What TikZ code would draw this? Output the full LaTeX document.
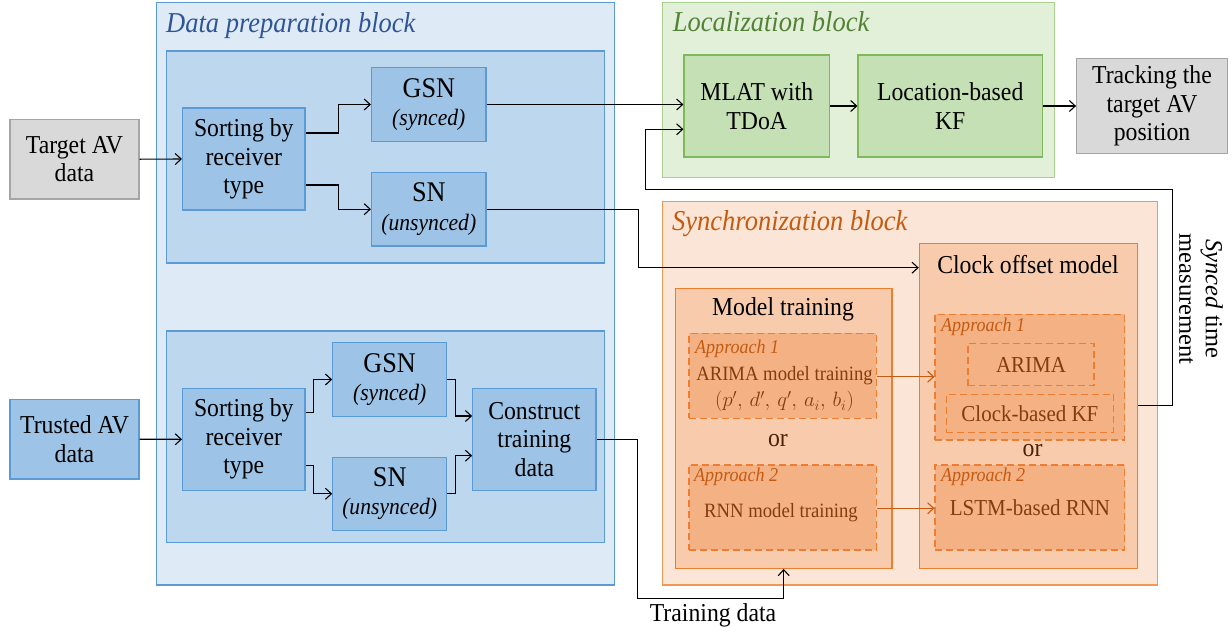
\documentclass[tikz,border=0pt]{standalone}
\usepackage{fontspec}
\setmainfont[FakeStretch=0.92]{Liberation Serif}
\newfontfamily\plainserif{Liberation Serif}
\usetikzlibrary{arrows.meta,calc}
\definecolor{bOuter}{HTML}{DEEAF6}
\definecolor{bPanel}{HTML}{BDD7EE}
\definecolor{bBox}{HTML}{9DC3E6}
\definecolor{bLine}{HTML}{5B9BD5}
\definecolor{bTitle}{HTML}{2F5597}
\definecolor{gOuter}{HTML}{E2F0D9}
\definecolor{gBox}{HTML}{C5E0B4}
\definecolor{gLineO}{HTML}{A9D18E}
\definecolor{gLine}{HTML}{7FBA5A}
\definecolor{gTitle}{HTML}{548235}
\definecolor{oOuter}{HTML}{FBE5D6}
\definecolor{oPanel}{HTML}{F8CBAD}
\definecolor{oDash}{HTML}{F4B183}
\definecolor{oLine}{HTML}{ED7D31}
\definecolor{oTitle}{HTML}{C55A11}
\definecolor{oText}{HTML}{843C0C}
\definecolor{oOr}{HTML}{4A2208}
\definecolor{grayF}{HTML}{D9D9D9}
\definecolor{grayL}{HTML}{A5A5A5}
\begin{document}
\begin{tikzpicture}[x=1pt,y=-1pt,
  base/.style={rectangle, inner sep=0pt, align=center, font=\fontsize{25.8}{28.5}\selectfont, line width=1.2pt},
  blueouter/.style={base, draw=bLine, fill=bOuter},
  bluepanel/.style={base, draw=bLine, fill=bPanel},
  bluebox/.style={base, draw=bLine, fill=bBox},
  graybox/.style={base, draw=grayL, fill=grayF},
  greenouter/.style={base, draw=gLineO, fill=gOuter},
  greenbox/.style={base, draw=gLine, fill=gBox},
  orangeouter/.style={base, draw=oLine!80, fill=oOuter},
  orangepanel/.style={base, draw=oLine, fill=oPanel},
  dashbox/.style={base, draw=oLine, fill=oDash, dash pattern=on 7pt off 4pt, text=oText},
  dashin/.style={base, draw=oLine, dash pattern=on 7pt off 4pt, text=oText, font=\fontsize{22.8}{26}\selectfont},
  title/.style={anchor=base west, inner sep=0pt, font=\fontsize{28.8}{32}\selectfont\itshape},
  apprlabel/.style={anchor=base west, inner sep=0pt, text=oTitle, font=\fontsize{19.6}{23}\selectfont\itshape},
  lbl/.style={inner sep=0pt, align=center, font=\fontsize{25.8}{28.5}\selectfont},
  arr/.style={-{Straight Barb[length=6pt,width=11pt]}, line width=1.1pt, draw=black},
  oarr/.style={-{Straight Barb[length=6pt,width=11pt]}, line width=1.1pt, draw=oTitle}
]
\useasboundingbox (0,0) rectangle (1232,633);

% ---------- containers ----------
\node[blueouter, minimum width=458.1pt, minimum height=582.3pt] (dp) at (385.6,293.9) {};
\node[bluepanel, minimum width=437.9pt, minimum height=212pt] (dpt) at (385.4,157) {};
\node[bluepanel, minimum width=437.9pt, minimum height=211.7pt] (dpb) at (385.4,436.9) {};
\node[greenouter, minimum width=392.2pt, minimum height=174.6pt] (loc) at (858.3,90) {};
\node[orangeouter, minimum width=495.3pt, minimum height=383.3pt] (sync) at (909.9,393.4) {};
\node[orangepanel, minimum width=217.8pt, minimum height=325pt] (clock) at (1028.3,405.8) {};
\node[orangepanel, minimum width=216.6pt, minimum height=280pt] (mt) at (783.7,428.3) {};

% ---------- titles ----------
\node[title, text=bTitle] (tdp) at (166,32.5) {Data preparation block};
\node[title, text=gTitle] (tloc) at (672.6,31.7) {Localization block};
\node[title, text=oTitle] (tsync) at (672,230) {Synchronization block};
\node[lbl, anchor=base] (tclock) at (1028,273) {Clock offset model};
\node[lbl, anchor=base] (tmt) at (783,315) {Model training};

% ---------- data preparation ----------
\node[graybox, minimum width=129pt, minimum height=79.7pt] (tav) at (74.5,159.2) {Target AV\\data};
\node[bluebox, minimum width=122.4pt, minimum height=102pt] (sort1) at (243.8,159) {Sorting by\\receiver\\type};
\node[bluebox, minimum width=114.5pt, minimum height=73.6pt] (gsn1) at (428.8,104.5) {\fontsize{28.5}{27}\selectfont GSN\\{\fontsize{23.5}{25}\selectfont\itshape (synced)}};
\node[bluebox, minimum width=114.5pt, minimum height=73.7pt] (sn1) at (428.8,209.2) {\fontsize{28.5}{27}\selectfont SN\\{\fontsize{23.5}{25}\selectfont\itshape (unsynced)}};

\node[bluebox, minimum width=129pt, minimum height=79.7pt] (trav) at (74.5,439.2) {Trusted AV\\data};
\node[bluebox, minimum width=122.4pt, minimum height=102pt] (sort2) at (243.8,439.3) {Sorting by\\receiver\\type};
\node[bluebox, minimum width=113.8pt, minimum height=73.6pt] (gsn2) at (389.7,379.5) {\fontsize{28.5}{27}\selectfont GSN\\{\fontsize{23.5}{25}\selectfont\itshape (synced)}};
\node[bluebox, minimum width=113.8pt, minimum height=73pt] (sn2) at (389.7,493.8) {\fontsize{28.5}{27}\selectfont SN\\{\fontsize{23.5}{25}\selectfont\itshape (unsynced)}};
\node[bluebox, minimum width=123.3pt, minimum height=102pt] (cons) at (534.4,439.3) {Construct\\training\\data};

% ---------- localization ----------
\node[greenbox, minimum width=145.6pt, minimum height=102pt] (mlat) at (756.8,106) {MLAT with\\TDoA};
\node[greenbox, minimum width=184.3pt, minimum height=102pt] (lkf) at (950.2,106) {Location-based\\KF};
\node[graybox, minimum width=150.6pt, minimum height=95pt] (track) at (1152,105.8) {Tracking the\\target AV\\position};

% ---------- synchronization ----------
\node[dashbox, minimum width=187.4pt, minimum height=85pt] (a1l) at (782.7,375.8) {};
\node[dashbox, minimum width=187.4pt, minimum height=85pt] (a2l) at (782.7,507.5) {};
\node[dashbox, minimum width=189.7pt, minimum height=125.7pt] (a1r) at (1029.9,377.2) {};
\node[dashbox, minimum width=189.7pt, minimum height=85pt] (a2r) at (1029.9,507.5) {};
\node[dashin, minimum width=126pt, minimum height=42.4pt] (arima) at (1031,364.5) {ARIMA};
\node[dashin, minimum width=167.1pt, minimum height=38pt] (ckf) at (1029.9,413.3) {Clock-based KF};

\node[apprlabel] (l1l) at (695,353.3) {Approach 1};
\node[apprlabel] (l2l) at (694,481.7) {Approach 2};
\node[apprlabel] (l1r) at (941,331.7) {Approach 1};
\node[apprlabel] (l2r) at (941,481.7) {Approach 2};

\node[lbl, text=oText, font=\fontsize{20.3}{26}\selectfont] (arimat) at (784.5,389.5) {ARIMA model training\\{\fontsize{20}{26}\selectfont$(p',\,d',\,q',\,a_i,\,b_i)$}};
\node[lbl, text=oText, font=\fontsize{20.3}{23}\selectfont, anchor=base] (rnnt) at (781,517.3) {RNN model training};
\node[lbl, text=oText, font=\fontsize{22.8}{26}\selectfont, anchor=base] (lstm) at (1030,515) {LSTM-based RNN};
\node[lbl, text=oOr, anchor=base] (or1) at (778,446.7) {or};
\node[lbl, text=oOr, anchor=base] (or2) at (1032.6,456.7) {or};

\node[lbl, font=\plainserif\fontsize{24.5}{26.5}\selectfont, rotate=-90] (synced) at (1201,299) {\textit{Synced} time\\measurement};
\node[lbl, anchor=base] (tdata) at (713,621.5) {Training data};

% ---------- connectors ----------
\draw[arr] (tav.east) -- (sort1.west);
\draw[arr] ($(sort1.east)+(0,-26)$) -- ++(33,0) |- (gsn1.west);
\draw[arr] ($(sort1.east)+(0,26)$) -- ++(33,0) |- (sn1.west);
\draw[arr] (gsn1.east) -- (gsn1.east -| mlat.west);
\draw[arr] (sn1.east) -- ++(151.6,0) |- ($(clock.north west)+(0,25)$);
\draw[arr] (clock.east) -- ++(35.1,0) |- (645.4,189.3) |- ($(mlat.west)+(0,23.3)$);
\draw[arr] (mlat.east) -- (lkf.west);
\draw[arr] (lkf.east) -- (lkf.east -| track.west);

\draw[arr] (trav.east) -- (sort2.west);
\draw[arr] ($(sort2.east)+(0,-26.6)$) -- ++(8,0) |- (gsn2.west);
\draw[arr] ($(sort2.east)+(0,26)$) -- ++(8,0) |- (sn2.west);
\draw[arr] (gsn2.east) -- ++(8,0) |- ($(cons.west)+(0,-23.3)$);
\draw[arr] (sn2.east) -- ++(8,0) |- ($(cons.west)+(0,16.4)$);
\draw[arr] (cons.east) -- ++(41,0) |- ($(mt.south)+(0,30)$) -- (mt.south);

\draw[oarr] ($(a1l.east)+(0,0.9)$) -- ($(a1l.east -| a1r.west)+(0,0.9)$);
\draw[oarr] ($(a2l.east)+(0,0.8)$) -- ($(a2l.east -| a2r.west)+(0,0.8)$);
\end{tikzpicture}
\end{document}
